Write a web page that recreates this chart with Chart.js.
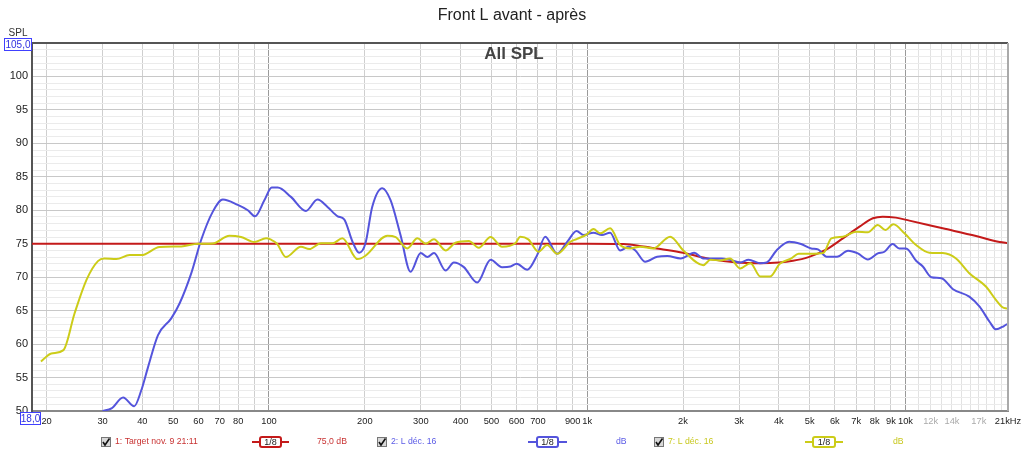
<!DOCTYPE html>
<html>
<head>
<meta charset="utf-8">
<script src="https://cdn.jsdelivr.net/npm/chart.js@4"></script>
<style>
  html, body { margin: 0; padding: 0; background: #fff; }
  #wrap { width: 1024px; height: 452px; }
</style>
</head>
<body>
<div id="wrap"><canvas id="myChart"></canvas></div>
<script>
//---------------DATA-------------
// 1: Target (red)
let targetFreq = [18, 1000, 1300, 1500, 1700, 2000, 2440, 2950, 3500, 4000, 4430, 4960, 5650, 6360, 7170, 7900, 8480, 9330, 10290, 13090, 16670, 19770, 21000];
let targetDb = [75, 75, 74.95, 74.6, 74.2, 73.65, 72.7, 72.2, 72.1, 72.2, 72.45, 73.0, 74.15, 75.8, 77.55, 78.8, 79.05, 78.9, 78.45, 77.3, 76.15, 75.25, 75.1];

// 2: L déc. 16 (blue)
let blueFreq = [30, 32, 34.8, 37.7, 39.7, 41.7, 44.8, 49.3, 52.4, 57, 61.2, 66.6, 71.6, 79.8, 85.8, 90.4, 96.7, 102, 106.5, 117.2, 130.6, 142, 152.7, 164.3, 172.3, 183, 192, 201, 211, 227, 241, 259, 278.5, 299.6, 314.6, 330, 359, 381, 409.6, 451, 497, 540, 574, 600, 648, 696, 738, 804, 866, 926, 973, 1046, 1112, 1180, 1269, 1349, 1417, 1522, 1659, 1785, 1967, 2167, 2315, 2640, 2808, 3025, 3215, 3487, 3664, 3933, 4310, 4697, 5055, 5311, 5655, 6096, 6600, 7086, 7617, 8185, 8588, 9116, 9558, 10040, 10800, 11340, 12060, 12970, 14110, 15870, 17100, 18400, 19240, 20390, 20860];
let blueDb = [50.0, 50.4, 52.0, 50.7, 53.1, 56.6, 61.35, 63.85, 66.1, 70.6, 75.55, 79.8, 81.6, 80.8, 80.0, 79.1, 81.5, 83.4, 83.4, 82.0, 79.9, 81.6, 80.5, 79.1, 78.65, 75.3, 73.65, 75.06, 80.5, 83.3, 81.5, 76.3, 70.8, 73.6, 73.0, 73.6, 71.0, 72.2, 71.5, 69.2, 72.6, 71.5, 71.6, 72.0, 71.1, 73.3, 76.05, 73.5, 75.3, 76.9, 76.3, 76.65, 76.3, 76.65, 74.0, 74.55, 74.0, 72.3, 73.05, 73.15, 72.8, 73.65, 72.8, 72.8, 72.6, 72.2, 72.6, 72.1, 72.2, 74.0, 75.3, 74.95, 74.3, 74.15, 73.05, 73.05, 73.95, 73.55, 72.65, 73.55, 73.8, 74.95, 74.3, 74.3, 72.45, 71.6, 70.0, 69.85, 68.2, 67.1, 65.6, 63.3, 62.2, 62.7, 63.0];

// 7: L déc. 16 (yellow)
let yellowFreq = [19.2, 20.7, 22.6, 24.5, 26.7, 29.0, 30.4, 33.1, 36.5, 39.7, 45.3, 53, 59.8, 66.6, 75.1, 81.7, 90, 97.9, 101.5, 106, 113, 126, 133.8, 145.5, 158.3, 170, 189.7, 201, 235.6, 250, 272, 292.6, 310.7, 329.8, 359, 385.5, 424.5, 456, 497, 540, 594, 616, 653, 703, 748, 804, 885, 926, 998, 1046, 1099, 1180, 1269, 1364, 1466, 1614, 1822, 2005, 2315, 2440, 2612, 2808, 3025, 3258, 3500, 3756, 4027, 4382, 4615, 5123, 5520, 5850, 6362, 7007, 7617, 8185, 8650, 9160, 9930, 10800, 11890, 13090, 14420, 15870, 17900, 19240, 20180, 20860];
let yellowDb = [57.4, 58.6, 59.1, 64.6, 69.6, 72.4, 72.8, 72.7, 73.3, 73.3, 74.5, 74.6, 75.0, 75.05, 76.2, 76.0, 75.25, 75.8, 75.6, 75.0, 73.0, 74.55, 74.2, 75.06, 75.06, 75.8, 72.7, 73.2, 76.2, 76.0, 74.3, 75.8, 75.0, 75.66, 74.0, 75.15, 75.4, 74.4, 76.0, 74.55, 75.06, 76.05, 75.65, 73.8, 74.8, 73.5, 75.3, 75.7, 76.4, 77.2, 76.55, 77.3, 74.8, 74.3, 74.55, 74.3, 76.05, 74.0, 71.8, 72.6, 72.5, 72.8, 71.3, 72.1, 70.1, 70.1, 72.0, 72.8, 73.5, 73.5, 73.6, 75.8, 76.05, 76.8, 76.7, 77.8, 77.05, 77.9, 76.55, 74.8, 73.65, 73.6, 72.8, 70.6, 68.6, 66.6, 65.5, 65.3];

// tick labels
let xTicks = [20, 30, 40, 50, 60, 70, 80, 90, 100, 200, 300, 400, 500, 600, 700, 800, 900, 1000, 2000, 3000, 4000, 5000, 6000, 7000, 8000, 9000, 10000, 11000, 12000, 13000, 14000, 15000, 16000, 17000, 18000, 19000, 20000, 21000];
let xLabels = { 20: "20", 30: "30", 40: "40", 50: "50", 60: "60", 70: "70", 80: "80", 100: "100", 200: "200", 300: "300", 400: "400", 500: "500", 600: "600", 700: "700", 900: "900", 1000: "1k", 2000: "2k", 3000: "3k", 4000: "4k", 5000: "5k", 6000: "6k", 7000: "7k", 8000: "8k", 9000: "9k", 10000: "10k", 12000: "12k", 14000: "14k", 17000: "17k", 21000: "21kHz" };
let grayLabels = [12000, 14000, 17000];

let series = [
  { name: "1: Target nov. 9 21:11", right: "75,0 dB", color: "#c41a1a", text: "#c83232", freq: targetFreq, db: targetDb },
  { name: "2: L déc. 16", right: "dB", color: "#5454dc", text: "#5a5ae6", freq: blueFreq, db: blueDb },
  { name: "7: L déc. 16", right: "dB", color: "#cccc18", text: "#c8c81e", freq: yellowFreq, db: yellowDb },
];

//---------------EXTRA DRAWING-------------
function boxText(ctx, txt, x, y, w, h) {
  ctx.strokeStyle = "#4040ff";
  ctx.lineWidth = 1;
  ctx.fillStyle = "#fff";
  ctx.fillRect(x, y, w, h);
  ctx.strokeRect(x + 0.5, y + 0.5, w - 1, h - 1);
  ctx.fillStyle = "#3030e0";
  ctx.font = "10px 'Liberation Sans'";
  ctx.textAlign = "center";
  ctx.textBaseline = "middle";
  ctx.fillText(txt, x + w / 2, y + h / 2 + 0.5);
}

function legendSymbol(ctx, color, x1, x2, bx1, bx2, y) {
  ctx.strokeStyle = color;
  ctx.lineWidth = 2;
  ctx.beginPath();
  ctx.moveTo(x1, y);
  ctx.lineTo(x2, y);
  ctx.stroke();
  ctx.fillStyle = "#fff";
  ctx.beginPath();
  ctx.roundRect(bx1, y - 5, bx2 - bx1, 10, 2);
  ctx.fill();
  ctx.stroke();
  ctx.fillStyle = "#222";
  ctx.font = "9px 'Liberation Sans'";
  ctx.textAlign = "center";
  ctx.textBaseline = "middle";
  ctx.fillText("1/8", (bx1 + bx2) / 2, y + 0.5);
}

function checkbox(ctx, x, y) {
  ctx.fillStyle = "#d8d8d8";
  ctx.fillRect(x, y, 10, 10);
  ctx.strokeStyle = "#777";
  ctx.lineWidth = 1;
  ctx.strokeRect(x + 0.5, y + 0.5, 9, 9);
  ctx.strokeStyle = "#111";
  ctx.lineWidth = 1.6;
  ctx.beginPath();
  ctx.moveTo(x + 2, y + 5);
  ctx.lineTo(x + 4, y + 8);
  ctx.lineTo(x + 8.5, y + 1.5);
  ctx.stroke();
}

let decor = {
  id: "decor",
  afterDraw(chart) {
    let ctx = chart.ctx, a = chart.chartArea;
    ctx.save();
    // frame top + right
    ctx.strokeStyle = "#555";
    ctx.lineWidth = 2;
    ctx.beginPath();
    ctx.moveTo(a.left, a.top);
    ctx.lineTo(a.right, a.top);
    ctx.stroke();
    ctx.strokeStyle = "#aaa";
    ctx.beginPath();
    ctx.moveTo(a.right, a.top);
    ctx.lineTo(a.right, a.bottom);
    ctx.stroke();

    // title
    ctx.fillStyle = "#222";
    ctx.font = "16px 'Liberation Sans'";
    ctx.textAlign = "center";
    ctx.textBaseline = "middle";
    ctx.fillText("Front L avant - après", 512, 16);
    ctx.fillStyle = "#444";
    ctx.font = "bold 17px 'Liberation Sans'";
    ctx.fillText("All SPL", 514, 54);

    // axis name + bound boxes
    ctx.fillStyle = "#333";
    ctx.font = "10px 'Liberation Sans'";
    ctx.fillText("SPL", 18, 33);
    boxText(ctx, "105,0", 4, 38, 28, 13);
    boxText(ctx, "18,0", 20, 412, 21, 13);

    // legend
    let y = 442;
    checkbox(ctx, 101, 437);
    checkbox(ctx, 377, 437);
    checkbox(ctx, 654, 437);
    ctx.font = "8.7px 'Liberation Sans'";
    ctx.textAlign = "left";
    ctx.textBaseline = "middle";
    ctx.fillStyle = series[0].text; ctx.fillText(series[0].name, 115, y);
    ctx.fillStyle = series[1].text; ctx.fillText(series[1].name, 391, y);
    ctx.fillStyle = series[2].text; ctx.fillText(series[2].name, 668, y);
    ctx.fillStyle = series[0].text; ctx.fillText(series[0].right, 317, y);
    ctx.fillStyle = series[1].text; ctx.fillText(series[1].right, 616, y);
    ctx.fillStyle = series[2].text; ctx.fillText(series[2].right, 893, y);
    legendSymbol(ctx, series[0].color, 252, 289, 260, 281, y);
    legendSymbol(ctx, series[1].color, 528, 567, 537, 558, y);
    legendSymbol(ctx, series[2].color, 805, 843, 813, 835, y);
    ctx.restore();
  }
};

//---------------CHART-------------
let ctx = document.getElementById("myChart").getContext("2d");
let myChart = new Chart(ctx, {
  type: "line",
  data: {
    datasets: series.slice().reverse().map((s) => {
      return {
        label: s.name,
        data: s.freq.map((f, i) => ({ x: f, y: s.db[i] })),
        borderColor: s.color,
        borderWidth: 2,
        pointRadius: 0,
        fill: false,
        cubicInterpolationMode: "monotone",
      };
    }),
  },
  options: {
    responsive: true,
    maintainAspectRatio: false,
    animation: false,
    layout: { padding: { top: 43, right: 16, left: 0, bottom: 0 } },
    plugins: {
      legend: { display: false },
      title: { display: false },
      tooltip: { enabled: false },
    },
    scales: {
      x: {
        type: "logarithmic",
        min: 18,
        max: 21000,
        afterBuildTicks: (scale) => {
          scale.ticks = xTicks.map((v) => ({ value: v }));
        },
        afterFit: (scale) => {
          scale.height = 41;
          scale.paddingLeft = 0;
          scale.paddingRight = 0;
        },
        border: { color: "#888", width: 2 },
        grid: {
          drawTicks: false,
          color: (c) => {
            let v = c.tick && c.tick.value;
            if (v == 100 || v == 1000 || v == 10000) return "#9a9a9a";
            if (v > 10000) return "#e2e2e2";
            return "#cfcfcf";
          },
        },
        ticks: {
          autoSkip: false,
          maxRotation: 0,
          padding: 5,
          font: { family: "'Liberation Sans'", size: 9.3 },
          color: (c) => (grayLabels.includes(c.tick.value) ? "#aaa" : "#222"),
          callback: (v) => xLabels[v] || "",
        },
      },
      y: {
        min: 50,
        max: 105,
        afterFit: (scale) => { scale.width = 32; },
        border: { color: "#555", width: 2 },
        grid: {
          drawTicks: false,
          color: (c) => (c.tick.value % 5 == 0 ? "#c8c8c8" : "#ebebeb"),
        },
        ticks: {
          stepSize: 1,
          autoSkip: false,
          padding: 4,
          font: { family: "'Liberation Sans'", size: 11 },
          color: "#222",
          callback: (v) => (v % 5 == 0 && v != 105 ? v : ""),
        },
      },
    },
  },
  plugins: [decor],
});
</script>
</body>
</html>
